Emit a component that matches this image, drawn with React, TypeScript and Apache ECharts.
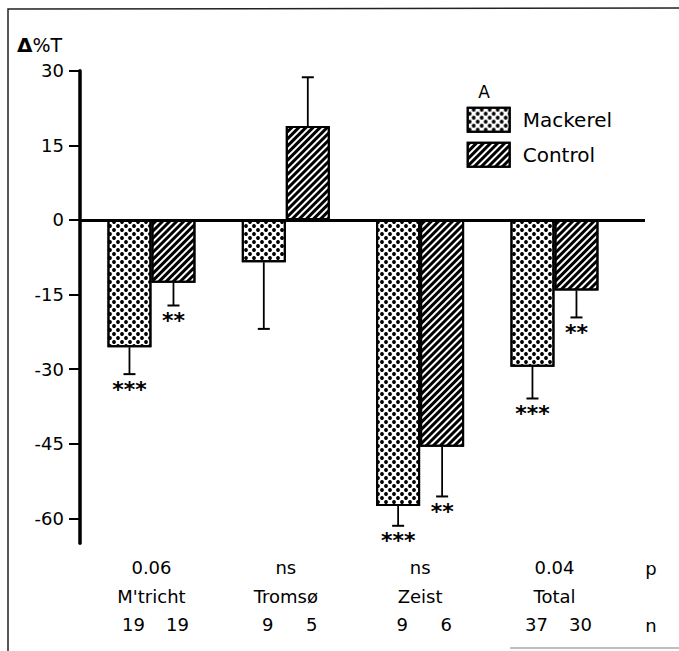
import React, { useEffect, useRef } from "react";
import * as echarts from "echarts";

// Study sites and their position on the (value) x axis
const sites = ["M'tricht", "Tromsø", "Zeist", "Total"];
const sitePos = [1, 2, 3, 4];
const pValues = ["0.06", "ns", "ns", "0.04"];
const nMackerel = [19, 9, 9, 37];
const nControl = [19, 5, 6, 30];

// Mean change in %T and its standard error
const mackerel = [-25.6, -8.5, -57.5, -29.5];
const mackerelSE = [5.4, 13.4, 4.0, 6.4];
const mackerelStars = ["***", "", "***", "***"];
const control = [-12.6, 18.9, -45.6, -14.2];
const controlSE = [4.6, 9.8, 10.0, 5.4];
const controlStars = ["**", "", "**", "**"];

const yTicks = [-60, -45, -30, -15, 0, 15, 30];

const FONT = "DejaVu Sans";
const BAR_W = 44;
const CAP = 6;

// Staggered dot screen
const DOTS = {
  symbol: "circle",
  symbolSize: 0.95,
  symbolKeepAspect: true,
  color: "#000",
  backgroundColor: "#fff",
  dashArrayX: [
    [4, 4],
    [0, 4, 4, 0],
  ],
  dashArrayY: [4, 0],
  rotation: 0,
  maxTileWidth: 512,
  maxTileHeight: 512,
};

// Diagonal "/" hatching
const HATCH = {
  symbol: "rect",
  symbolSize: 1,
  symbolKeepAspect: false,
  color: "#000",
  backgroundColor: "#fff",
  dashArrayX: [8, 0],
  dashArrayY: [2.6, 1.4],
  rotation: -Math.PI / 4,
  maxTileWidth: 512,
  maxTileHeight: 512,
};

function barSeries(name: string, values: number[], decal: any) {
  return {
    type: "bar",
    name,
    data: values.map((v, i) => [sitePos[i], v]),
    barWidth: BAR_W,
    barGap: "0%",
    silent: true,
    z: 2,
    itemStyle: { color: "#fff", borderColor: "#000", borderWidth: 2, decal },
    emphasis: { disabled: true },
  };
}

function errorSeries(name: string, values: number[], se: number[], stars: string[], side: number) {
  return {
    type: "custom",
    name,
    silent: true,
    z: 5,
    data: values.map((v, i) => [sitePos[i], v, v + Math.sign(v) * se[i]]),
    encode: { x: 0, y: [1, 2] },
    renderItem: (params: any, api: any) => {
      const i = params.dataIndex;
      const base = api.coord([api.value(0), api.value(1)]);
      const end = api.coord([api.value(0), api.value(2)]);
      const cx = base[0] + (side * BAR_W) / 2;
      return {
        type: "group",
        children: [
          {
            type: "line",
            shape: { x1: cx, y1: base[1], x2: cx, y2: end[1] },
            style: { stroke: "#000", lineWidth: 1.8 },
          },
          {
            type: "line",
            shape: { x1: cx - CAP, y1: end[1], x2: cx + CAP, y2: end[1] },
            style: { stroke: "#000", lineWidth: 2 },
          },
          {
            type: "text",
            x: cx,
            y: end[1] + 15,
            style: {
              text: stars[i],
              fontFamily: FONT,
              fontSize: 22,
              fontWeight: "bold",
              fill: "#000",
              align: "center",
              verticalAlign: "middle",
            },
          },
        ],
      };
    },
  };
}

export default function App() {
  const ref = useRef<HTMLDivElement>(null);

  useEffect(() => {
    document.body.style.margin = "0";
    const chart = echarts.init(ref.current!, undefined, { renderer: "svg" });
    const rowStyle = { fontFamily: FONT, fontSize: 18, color: "#000", lineHeight: 28.5, align: "center" };

    chart.setOption({
      animation: false,
      backgroundColor: "#fff",
      aria: { enabled: true, decal: { show: true } },
      grid: { left: 80, right: 34, top: 70.8, bottom: 107.8 },
      xAxis: {
        type: "value",
        min: 0.468,
        max: 4.674,
        axisLine: { show: false },
        axisTick: { show: false },
        splitLine: { show: false },
        axisLabel: {
          customValues: sitePos,
          margin: 10.5,
          formatter: (v: number) => {
            const i = Math.round(v) - 1;
            return `{r|${pValues[i]}}\n{r|${sites[i]}}\n{sp| }{n|${nMackerel[i]}}{n|${nControl[i]}}`;
          },
          rich: {
            r: rowStyle,
            n: { ...rowStyle, width: BAR_W },
            sp: { ...rowStyle, width: 8 },
          },
        },
      },
      yAxis: {
        type: "value",
        min: -65,
        max: 30,
        splitLine: { show: false },
        axisLine: { show: true, onZero: false, lineStyle: { color: "#000", width: 3.5 } },
        axisTick: { show: true, customValues: yTicks, length: 11, lineStyle: { color: "#000", width: 2 } },
        axisLabel: { customValues: yTicks, margin: 16, fontFamily: FONT, fontSize: 18, color: "#000" },
      },
      legend: {
        data: ["Mackerel", "Control"],
        orient: "vertical",
        left: 466.7,
        top: 106.7,
        padding: 0,
        itemWidth: 42,
        itemHeight: 24,
        itemGap: 9,
        icon: "rect",
        selectedMode: false,
        itemStyle: { borderColor: "#000", borderWidth: 2 },
        textStyle: { fontFamily: FONT, fontSize: 20, color: "#000", padding: [0, 0, 0, 8] },
      },
      graphic: [
        {
          type: "polyline",
          silent: true,
          shape: { points: [[8, 651], [8, 9], [679, 8]] },
          style: { stroke: "#222", lineWidth: 1.5, fill: null },
        },
        {
          type: "line",
          silent: true,
          shape: { x1: 510, y1: 648, x2: 679, y2: 648 },
          style: { stroke: "#aaa", lineWidth: 1.5 },
        },
        {
          type: "text",
          left: 17,
          top: 35,
          style: {
            text: "{d|Δ}{t|%T}",
            rich: {
              d: { fontFamily: FONT, fontSize: 20, fontWeight: "bold", fill: "#000" },
              t: { fontFamily: FONT, fontSize: 19, fill: "#000" },
            },
          },
        },
        {
          type: "text",
          x: 484,
          y: 92,
          style: { text: "A", fontFamily: FONT, fontSize: 17, fill: "#000", align: "center", verticalAlign: "middle" },
        },
        {
          type: "text",
          x: 651,
          y: 568,
          style: { text: "p", fontFamily: FONT, fontSize: 18, fill: "#000", align: "center", verticalAlign: "middle" },
        },
        {
          type: "text",
          x: 651,
          y: 625,
          style: { text: "n", fontFamily: FONT, fontSize: 18, fill: "#000", align: "center", verticalAlign: "middle" },
        },
      ],
      series: [
        {
          ...barSeries("Mackerel", mackerel, DOTS),
          markLine: {
            silent: true,
            symbol: ["none", "none"],
            label: { show: false },
            emphasis: { disabled: true },
            lineStyle: { color: "#000", width: 3, type: "solid" },
            data: [{ yAxis: 0 }],
          },
        },
        barSeries("Control", control, HATCH),
        errorSeries("Mackerel SE", mackerel, mackerelSE, mackerelStars, -1),
        errorSeries("Control SE", control, controlSE, controlStars, 1),
      ],
    });

    return () => chart.dispose();
  }, []);

  return <div ref={ref} style={{ position: "fixed", left: 0, top: 0, width: 679, height: 651 }} />;
}
